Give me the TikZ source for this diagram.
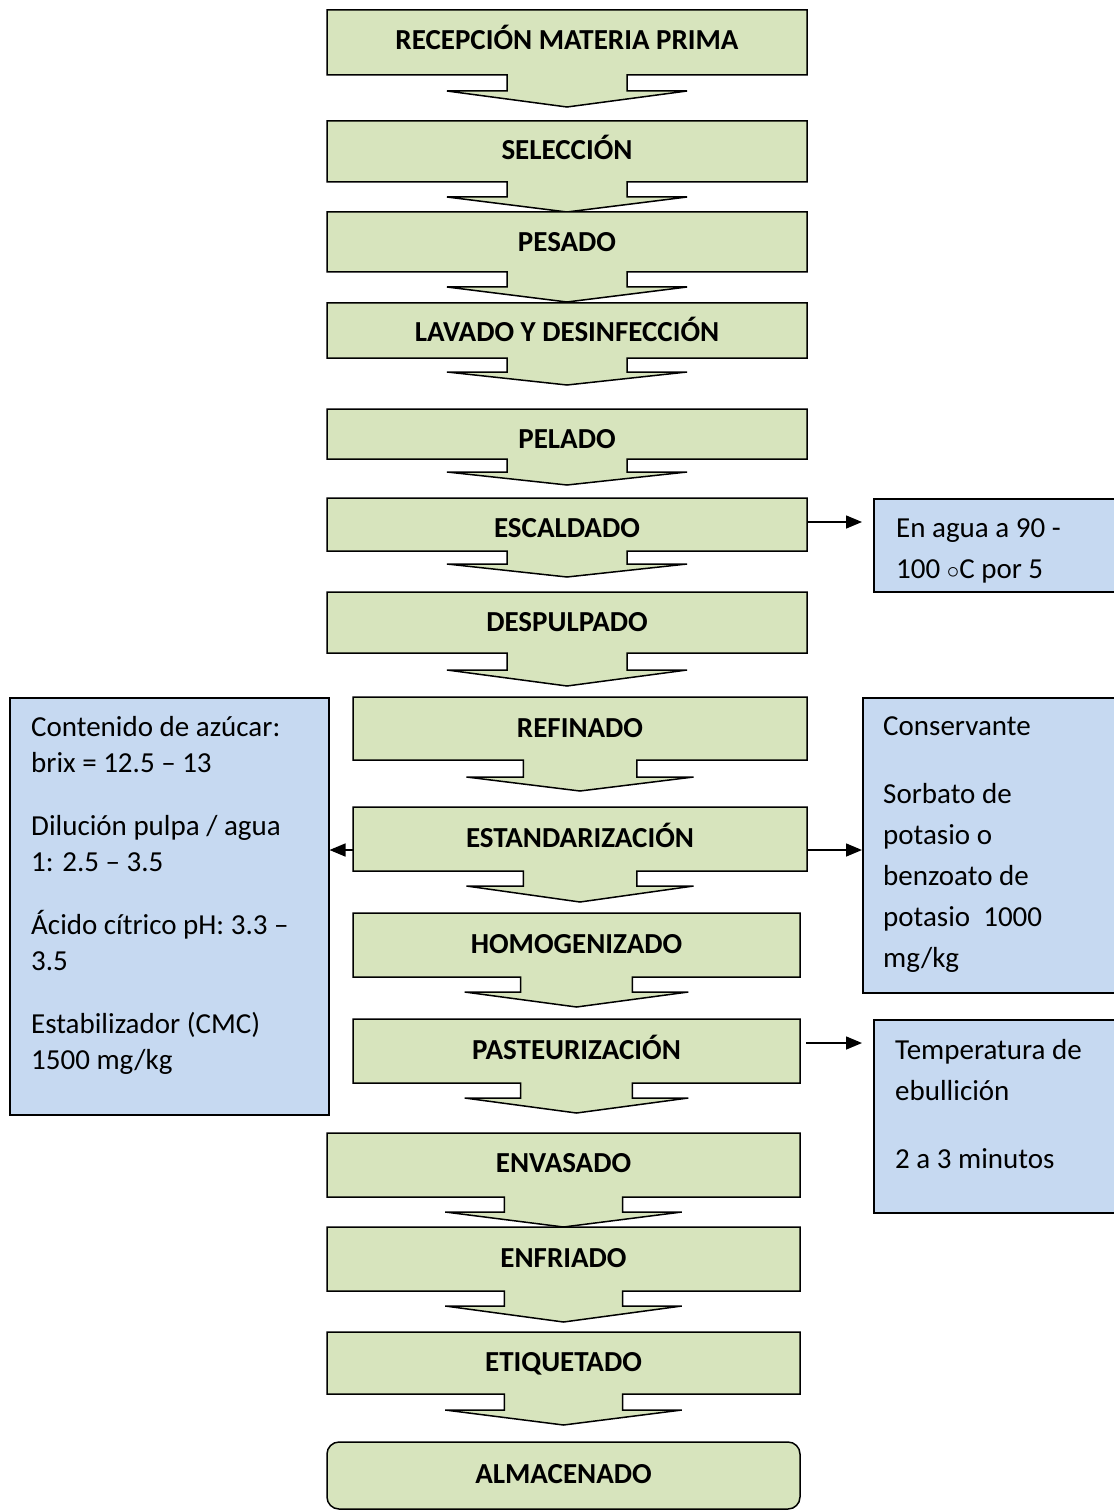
\documentclass[tikz,border=0pt]{standalone}
\usepackage{fontspec}
\setmainfont{Carlito}
\usetikzlibrary{arrows.meta}
\definecolor{stepgreen}{HTML}{D7E4BD}
\definecolor{noteblue}{HTML}{C6D9F1}
\tikzset{
  stepshape/.style={fill=stepgreen, draw=black, line width=1.5pt, line join=miter},
  steptext/.style={inner sep=0pt, font=\fontsize{29}{35}\selectfont\bfseries, text depth=0pt},
  notebox/.style={fill=noteblue, draw=black, line width=1.5pt, inner sep=0pt, anchor=north west},
  notetext/.style={inner sep=0pt, anchor=north west, align=left},
  conn/.style={line width=1.5pt, -{Triangle[length=16pt,width=13pt]}},
}
% #1 name #2 left #3 right #4 top #5 bottom #6 head y #7 tip y #8 text centre y #9 text
\newcommand\flowstep[9]{%
  \pgfmathsetmacro\fsCx{(#2+#3)/2}%
  \pgfmathsetmacro\fsCy{(#4+#5)/2}%
  \pgfmathsetmacro\fsW{#3-#2}%
  \pgfmathsetmacro\fsHt{#5-#4}%
  \pgfmathsetmacro\fsS{(#3-#2)/8}%
  \pgfmathsetmacro\fsH{(#3-#2)/4}%
  \pgfmathsetmacro\fsTH{2*(#8+9.4-\fsCy)}%
  \draw[stepshape] (#2,#4) -- (#3,#4) -- (#3,#5) -- (\fsCx+\fsS,#5) -- (\fsCx+\fsS,#6)
    -- (\fsCx+\fsH,#6) -- (\fsCx,#7) -- (\fsCx-\fsH,#6) -- (\fsCx-\fsS,#6)
    -- (\fsCx-\fsS,#5) -- (#2,#5) -- cycle;
  \node[steptext, minimum width=\fsW pt, minimum height=\fsHt pt, text height=\fsTH pt]
    (#1) at (\fsCx,\fsCy) {#9};
}
\begin{document}
\begin{tikzpicture}[x=1pt,y=-1pt]
\useasboundingbox (0,0) rectangle (1113,1511);

\flowstep{s1}{327}{807}{10}{75}{91}{107}{40}{RECEPCIÓN MATERIA PRIMA}
\flowstep{s2}{327}{807}{121}{182}{197}{212}{150}{SELECCIÓN}
\flowstep{s3}{327}{807}{212}{272}{287}{302}{242}{PESADO}
\flowstep{s4}{327}{807}{303}{358}{372}{385}{332}{LAVADO Y DESINFECCIÓN}
\flowstep{s5}{327}{807}{409}{459}{472}{485}{439}{PELADO}
\flowstep{s6}{327}{807}{498}{551}{564}{577}{528}{ESCALDADO}
\flowstep{s7}{327}{807}{592}{653}{670}{686}{622}{DESPULPADO}
\flowstep{s8}{353}{807}{697}{760}{777}{791}{728}{REFINADO}
\flowstep{s9}{353}{807}{807}{871}{886}{902}{838}{ESTANDARIZACIÓN}
\flowstep{s10}{353}{800}{913}{977}{992}{1007}{944}{HOMOGENIZADO}
\flowstep{s11}{353}{800}{1019}{1083}{1098}{1113}{1050}{PASTEURIZACIÓN}
\flowstep{s12}{327}{800}{1133}{1197}{1212}{1227}{1163}{ENVASADO}
\flowstep{s13}{327}{800}{1227}{1291}{1306}{1322}{1258}{ENFRIADO}
\flowstep{s14}{327}{800}{1332}{1394}{1410}{1425}{1362}{ETIQUETADO}
\node[stepshape, steptext, rounded corners=12pt, minimum width=473pt, minimum height=67pt,
      text height=15.8pt] (s15) at (563.5,1475.5) {ALMACENADO};

% notes
\node[notebox, minimum width=260pt, minimum height=93pt] (nA) at (873,498) {};
\node[notebox, minimum width=319pt, minimum height=417pt] (nB) at (9,697) {};
\node[notebox, minimum width=270pt, minimum height=295pt] (nC) at (862,697) {};
\node[notebox, minimum width=260pt, minimum height=193pt] (nD) at (873,1019) {};

\node[notetext, font=\fontsize{29}{41}\selectfont] (tA) at (896,508.3)
  {\strut En agua a 90 -\\100 $\circ$C por 5};
\node[notetext, font=\fontsize{29}{36}\selectfont] (tB) at (31,710.8)
  {\strut Contenido de azúcar:\\brix = 12.5 – 13\\[27pt]Dilución pulpa / agua\\1: 2.5 – 3.5\\[27pt]Ácido cítrico pH: 3.3 –\\3.5\\[27pt]Estabilizador (CMC)\\1500 mg/kg};
\node[notetext, font=\fontsize{29}{41}\selectfont] (tC) at (883,706.3)
  {\strut Conservante\\[27pt]Sorbato de\\potasio o\\benzoato de\\potasio\ \ 1000\\mg/kg};
\node[notetext, font=\fontsize{29}{41}\selectfont] (tD) at (895,1030.3)
  {\strut Temperatura de\\ebullición\\[27pt]2 a 3 minutos};

% connectors
\coordinate (e6) at ([yshift=2.5pt]s6.east);
\draw[conn, shorten >=11pt] (e6) -- (e6 -| nA.west);
\coordinate (e9l) at ([yshift=-11pt]s9.west);
\draw[conn] (e9l) -- (e9l -| nB.east);
\coordinate (e9r) at ([yshift=-11pt]s9.east);
\draw[conn] (e9r) -- (e9r -| nC.west);
\coordinate (e11) at ([yshift=8pt]s11.east);
\draw[conn, shorten >=11pt] ([xshift=6pt]e11) -- (e11 -| nD.west);
\end{tikzpicture}
\end{document}
